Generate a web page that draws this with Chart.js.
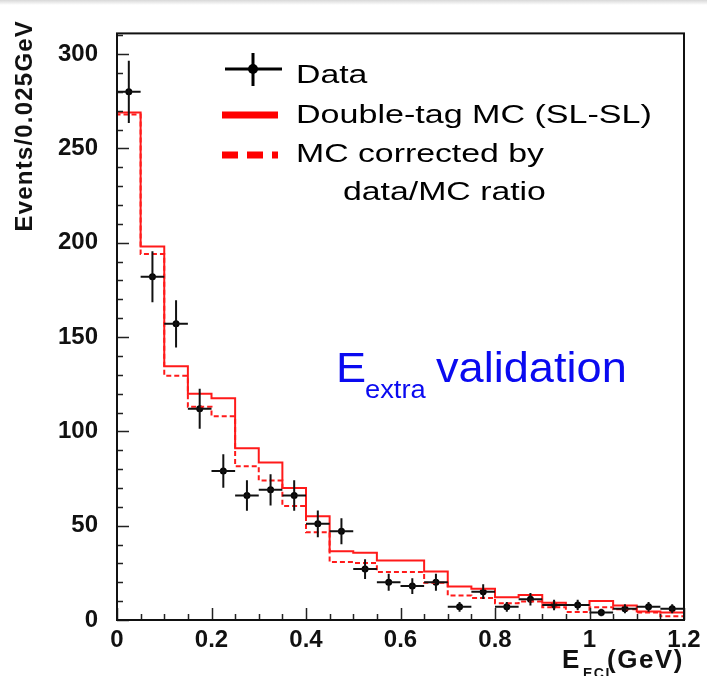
<!DOCTYPE html>
<html>
<head>
<meta charset="utf-8">
<script src="https://cdn.jsdelivr.net/npm/chart.js@4.4.1/dist/chart.umd.min.js"></script>
<style>
  html, body { margin: 0; padding: 0; background: #fff; }
  #wrap { position: relative; width: 707px; height: 676px; }
  #topband { position: absolute; left: 0; top: 0; width: 707px; height: 5px;
    background: linear-gradient(to bottom, #d8d8d8, #ffffff); }
</style>
</head>
<body>
<div id="wrap">
  <canvas id="chart" width="707" height="676"></canvas>
  <div id="topband"></div>
</div>
<script>
// bins of 0.05 GeV
var binLow = [0, 0.05, 0.1, 0.15, 0.2, 0.25, 0.3, 0.35, 0.4, 0.45, 0.5, 0.55,
              0.6, 0.65, 0.7, 0.75, 0.8, 0.85, 0.9, 0.95, 1.0, 1.05, 1.1, 1.15];
var binCenters = [0.025, 0.075, 0.125, 0.175, 0.225, 0.275, 0.325, 0.375, 0.425, 0.475, 0.525, 0.575,
                  0.625, 0.675, 0.725, 0.775, 0.825, 0.875, 0.925, 0.975, 1.025, 1.075, 1.125, 1.175];
var binHalfWidth = 0.025;

var dataCounts = [280, 182, 157, 112, 79, 66, 69, 66, 51, 47, 27, 20,
                  18, 20, 7, 15, 7, 11, 8, 8, 4, 6, 7, 6];
var dataErrors = [16.5, 13.5, 12.5, 10.6, 8.9, 8.1, 8.3, 8.1, 7.1, 6.9, 5.2, 4.5,
                  4.2, 4.5, 2.6, 3.9, 2.6, 3.3, 2.8, 2.8, 2.0, 2.4, 2.6, 2.4];

var mcDoubleTag = [269, 198, 134.5, 120, 117.5, 91, 83.5, 70, 55, 36.5, 35.6, 31.5,
                   31.5, 25.7, 17.8, 16.6, 12.1, 13.3, 9.2, 8.0, 10.1, 7.7, 4.5, 4.0];
var mcCorrected = [268, 194, 129.5, 113, 108, 81.5, 74, 60.5, 46.5, 30.7, 30.2, 25.4,
                   25.4, 19.8, 13, 11.7, 8.9, 9.8, 6.7, 4.3, 6.7, 5.7, 4.0, 2.0];

var xTicks = [0, 0.2, 0.4, 0.6, 0.8, 1, 1.2];
var yTicks = [0, 50, 100, 150, 200, 250, 300];
var xMax = 1.2;
var yMax = 311;

var FONT = '"Liberation Sans", Arial, Helvetica, sans-serif';

function stepPoints(values) {
    var pts = [{ x: 0, y: 0 }];
    for (var i = 0; i < values.length; i++) {
        pts.push({ x: binLow[i], y: values[i] });
    }
    pts.push({ x: xMax, y: values[values.length - 1] });
    return pts;
}

var dataPoints = [];
for (var i = 0; i < binCenters.length; i++) {
    dataPoints.push({ x: binCenters[i], y: dataCounts[i] });
}

// text stretched horizontally like the slide picture
function wideText(ctx, text, x, y, sx) {
    ctx.save();
    ctx.translate(x, y);
    ctx.scale(sx, 1);
    ctx.fillText(text, 0, 0);
    ctx.restore();
}

// error bars, frame, inward ticks
var histPlugin = {
    id: 'histPlugin',
    afterDatasetsDraw: function (chart) {
        var ctx = chart.ctx;
        var xs = chart.scales.x, ys = chart.scales.y;
        ctx.save();
        ctx.strokeStyle = '#111';
        ctx.lineWidth = 2;
        for (var i = 0; i < dataCounts.length; i++) {
            var cx = xs.getPixelForValue(binCenters[i]);
            var cy = ys.getPixelForValue(dataCounts[i]);
            ctx.beginPath();
            ctx.moveTo(xs.getPixelForValue(binCenters[i] - binHalfWidth), cy);
            ctx.lineTo(xs.getPixelForValue(binCenters[i] + binHalfWidth), cy);
            ctx.moveTo(cx, ys.getPixelForValue(dataCounts[i] + dataErrors[i]));
            ctx.lineTo(cx, ys.getPixelForValue(Math.max(0, dataCounts[i] - dataErrors[i])));
            ctx.stroke();
        }
        ctx.restore();
    },
    afterDraw: function (chart) {
        var ctx = chart.ctx;
        var a = chart.chartArea;
        var xs = chart.scales.x, ys = chart.scales.y;
        ctx.save();
        // inward ticks
        ctx.strokeStyle = '#222';
        ctx.lineWidth = 1.5;
        ctx.beginPath();
        for (var v = 0; v <= yMax; v += 10) {
            var py = Math.round(ys.getPixelForValue(v)) + 0.5;
            var len = (v % 50 === 0) ? 12 : 6;
            ctx.moveTo(a.left, py);
            ctx.lineTo(a.left + len, py);
        }
        for (var k = 0; k <= 24; k++) {
            var px = Math.round(xs.getPixelForValue(k * 0.05)) + 0.5;
            var l2 = (k % 4 === 0) ? 12 : 6;
            ctx.moveTo(px, a.bottom);
            ctx.lineTo(px, a.bottom - l2);
        }
        ctx.stroke();
        // frame
        ctx.strokeStyle = '#111';
        ctx.lineWidth = 2;
        ctx.strokeRect(a.left, a.top, a.right - a.left, a.bottom - a.top);

        // y axis title
        ctx.fillStyle = '#111';
        ctx.save();
        ctx.translate(25, 20);
        ctx.rotate(-Math.PI / 2);
        ctx.font = 'bold 24px ' + FONT;
        ctx.letterSpacing = '1.2px';
        ctx.textAlign = 'right';
        ctx.textBaseline = 'middle';
        ctx.fillText('Events/0.025GeV', 0, 0);
        ctx.restore();

        // x axis title
        ctx.textAlign = 'left';
        ctx.textBaseline = 'alphabetic';
        ctx.letterSpacing = '1.5px';
        ctx.font = 'bold 26px ' + FONT;
        ctx.fillText('E', 562, 668);
        ctx.font = 'bold 14px ' + FONT;
        ctx.fillText('ECL', 583, 678);
        ctx.font = 'bold 26px ' + FONT;
        ctx.fillText('(GeV)', 607, 668);
        ctx.letterSpacing = '0px';

        // legend
        ctx.lineWidth = 3;
        ctx.strokeStyle = '#000';
        ctx.beginPath();
        ctx.moveTo(225, 69); ctx.lineTo(282, 69);
        ctx.moveTo(253, 53); ctx.lineTo(253, 86);
        ctx.stroke();
        ctx.fillStyle = '#000';
        ctx.beginPath();
        ctx.arc(253, 69, 5, 0, Math.PI * 2);
        ctx.fill();
        ctx.strokeStyle = '#ff0000';
        ctx.lineWidth = 7;
        ctx.beginPath();
        ctx.moveTo(222, 115); ctx.lineTo(278, 115);
        ctx.stroke();
        ctx.setLineDash([16, 9]);
        ctx.beginPath();
        ctx.moveTo(222, 155); ctx.lineTo(278, 155);
        ctx.stroke();
        ctx.setLineDash([]);

        ctx.fillStyle = '#000';
        ctx.font = '26px ' + FONT;
        wideText(ctx, 'Data', 296, 83, 1.3);
        wideText(ctx, 'Double-tag MC (SL-SL)', 296, 123, 1.31);
        wideText(ctx, 'MC corrected by', 296, 162, 1.3);
        wideText(ctx, 'data/MC ratio', 343, 200, 1.3);

        // annotation
        ctx.fillStyle = '#0a0af0';
        ctx.font = '43px ' + FONT;
        wideText(ctx, 'E', 336, 382, 1.05);
        ctx.font = '26px ' + FONT;
        wideText(ctx, 'extra', 365, 398, 1.05);
        ctx.font = '43px ' + FONT;
        wideText(ctx, 'validation', 436, 382, 1.05);
        ctx.restore();
    }
};

var chartElement = document.getElementById('chart');

new Chart(chartElement, {
    type: 'scatter',
    data: {
        datasets: [{
            label: 'Double-tag MC (SL-SL)',
            type: 'line',
            data: stepPoints(mcDoubleTag),
            stepped: 'before',
            borderColor: '#ff1a1a',
            borderWidth: 2,
            pointRadius: 0,
            fill: false
        }, {
            label: 'MC corrected by data/MC ratio',
            type: 'line',
            data: stepPoints(mcCorrected),
            stepped: 'before',
            borderColor: '#ff1a1a',
            borderWidth: 2,
            borderDash: [5, 3],
            pointRadius: 0,
            fill: false
        }, {
            label: 'Data',
            data: dataPoints,
            backgroundColor: '#000',
            borderColor: '#000',
            pointRadius: 3.5,
            pointBorderWidth: 0
        }]
    },
    options: {
        responsive: false,
        animation: false,
        layout: { padding: { left: 0, right: 23, top: 17, bottom: 0 } },
        plugins: {
            legend: { display: false },
            tooltip: { enabled: false }
        },
        scales: {
            x: {
                type: 'linear',
                min: 0,
                max: xMax,
                afterBuildTicks: function (scale) {
                    scale.ticks = xTicks.map(function (v) { return { value: v }; });
                },
                afterFit: function (scale) { scale.height = 56; },
                ticks: {
                    color: '#111',
                    padding: 6,
                    maxRotation: 0,
                    font: { family: FONT, size: 24, weight: 'bold' },
                    callback: function (value) { return String(Math.round(value * 10) / 10); }
                },
                grid: { display: false, drawTicks: false },
                border: { display: false }
            },
            y: {
                min: 0,
                max: yMax,
                afterBuildTicks: function (scale) {
                    scale.ticks = yTicks.map(function (v) { return { value: v }; });
                },
                afterFit: function (scale) { scale.width = 117; },
                ticks: {
                    color: '#111',
                    padding: 19,
                    font: { family: FONT, size: 24, weight: 'bold' }
                },
                grid: { display: false, drawTicks: false },
                border: { display: false }
            }
        }
    },
    plugins: [histPlugin]
});
</script>
</body>
</html>
